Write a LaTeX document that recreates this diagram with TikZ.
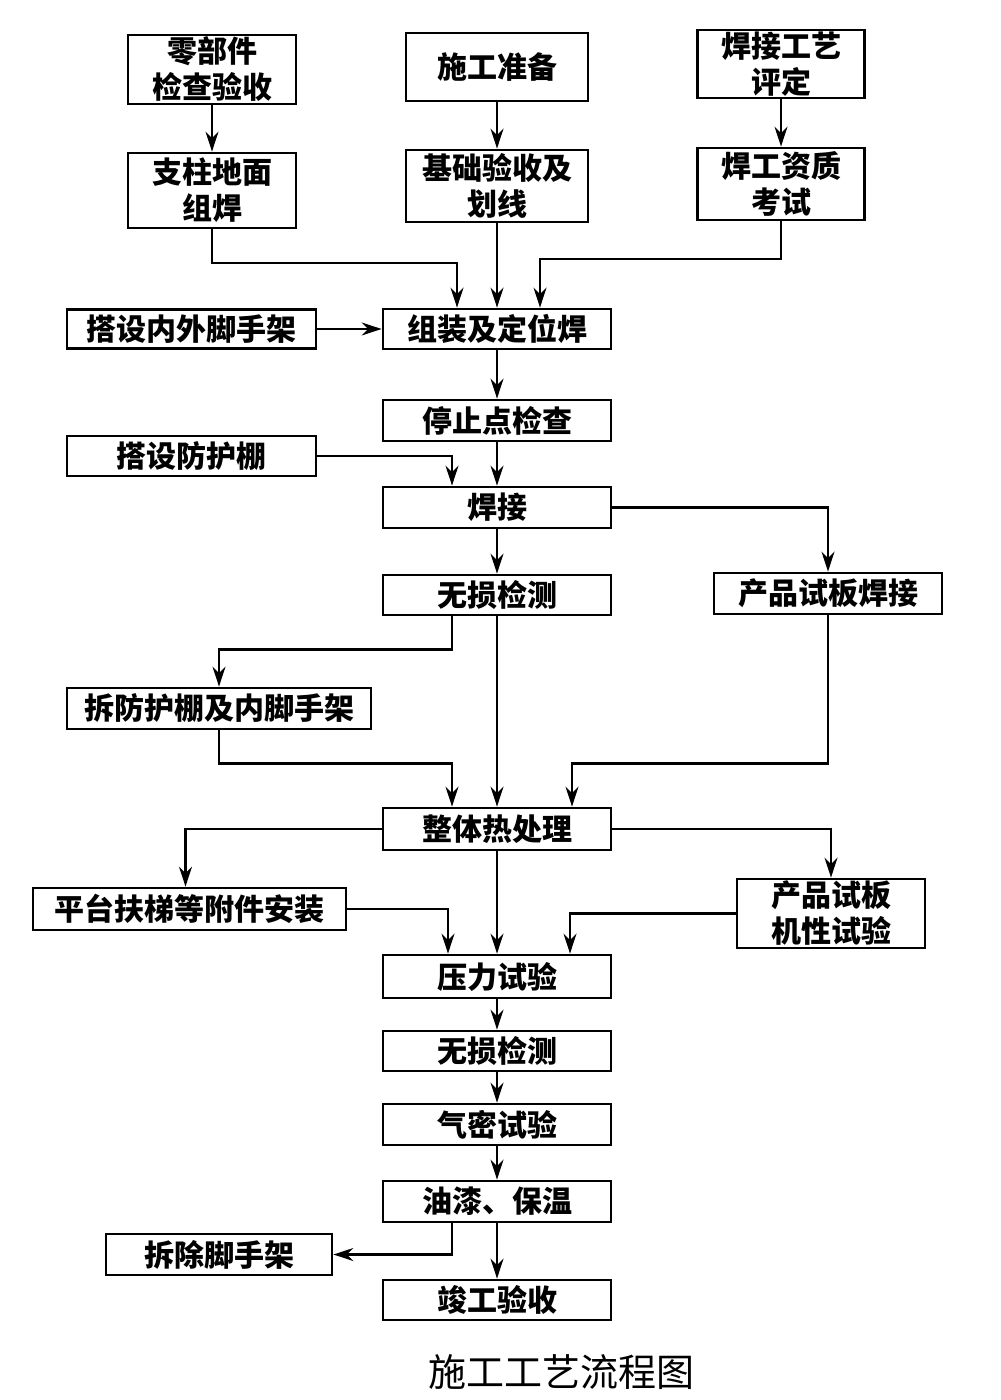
\documentclass[tikz,border=0pt]{standalone}
\usepackage{fontspec}
\newfontfamily\cjk{Noto Sans CJK SC}
\usetikzlibrary{arrows.meta,calc}
\begin{document}
\begin{tikzpicture}[x=0.5pt,y=-0.5pt,
  box/.style={draw,line width=1.4pt,inner sep=0pt,align=center,font=\cjk\bfseries\fontsize{15}{18}\selectfont},
  arr/.style={line width=1.1pt,-{Stealth[length=10pt,width=6.5pt]}},
  ln/.style={line width=1pt}]
\path[use as bounding box] (0,0) rectangle (1000,1400);
% nodes
\node[box,minimum width=84pt,minimum height=34.5pt] (zbj) at (212,69.5) {零部件\\检查验收};
\node[box,minimum width=91pt,minimum height=34pt] (sgzb) at (497,67) {施工准备};
\node[box,minimum width=83.5pt,minimum height=34pt] (hjgy) at (781,64) {焊接工艺\\评定};
\node[box,minimum width=84pt,minimum height=37.5pt] (zzdm) at (212,190.5) {支柱地面\\组焊};
\node[box,minimum width=91pt,minimum height=36pt] (jcys) at (497,186) {基础验收及\\划线};
\node[box,minimum width=83.5pt,minimum height=36pt] (hgzz) at (781,184) {焊工资质\\考试};
\node[box,minimum width=124.5pt,minimum height=19.5pt] (dsnw) at (191.5,329) {搭设内外脚手架};
\node[box,minimum width=114pt,minimum height=20pt] (zz) at (497,329) {组装及定位焊};
\node[box,minimum width=114pt,minimum height=20.5pt] (tzd) at (497,420.5) {停止点检查};
\node[box,minimum width=124.5pt,minimum height=20pt] (dsfh) at (191.5,456) {搭设防护棚};
\node[box,minimum width=114pt,minimum height=20.5pt] (hj) at (497,507.5) {焊接};
\node[box,minimum width=114pt,minimum height=20pt] (wsjc1) at (497,595) {无损检测};
\node[box,minimum width=114pt,minimum height=20.5pt] (cpsbhj) at (828,593.5) {产品试板焊接};
\node[box,minimum width=152pt,minimum height=20.5pt] (cfhp) at (219,708.5) {拆防护棚及内脚手架};
\node[box,minimum width=114pt,minimum height=21pt] (ztrcl) at (497,829) {整体热处理};
\node[box,minimum width=156.5pt,minimum height=21pt] (ptft) at (189.5,909) {平台扶梯等附件安装};
\node[box,minimum width=94pt,minimum height=34.5pt] (cpjx) at (831,913.5) {产品试板\\机性试验};
\node[box,minimum width=114pt,minimum height=21.5pt] (ylsy) at (497,976.5) {压力试验};
\node[box,minimum width=114pt,minimum height=20pt] (wsjc2) at (497,1051) {无损检测};
\node[box,minimum width=114pt,minimum height=20.5pt] (qmsy) at (497,1124.5) {气密试验};
\node[box,minimum width=114pt,minimum height=20.5pt] (yq) at (497,1201.5) {油漆、保温};
\node[box,minimum width=113pt,minimum height=20.5pt] (ccjsj) at (219,1254.5) {拆除脚手架};
\node[box,minimum width=114pt,minimum height=20pt] (jgys) at (497,1300) {竣工验收};
\node[font=\cjk\fontsize{19}{21}\selectfont] (cap) at (561,1372) {施工工艺流程图};
% connectors
\draw[arr] (zbj.south) -- (zzdm.north);
\draw[arr] (sgzb.south) -- (jcys.north);
\draw[arr] (hjgy.south) -- (hgzz.north);
\draw[arr] (zzdm.south) -- ++(0,34) -| ($(zz.north)+(-40,0)$);
\draw[arr] (jcys.south) -- (zz.north);
\draw[arr] (hgzz.south) -- ++(0,38) -| ($(zz.north)+(43,0)$);
\draw[arr] (dsnw.east) -- (zz.west);
\draw[arr] (zz.south) -- (tzd.north);
\draw[arr] (tzd.south) -- (hj.north);
\draw[arr] (dsfh.east) -| ($(hj.north)+(-45,0)$);
\draw[arr] (hj.east) -| (cpsbhj.north);
\draw[arr] (hj.south) -- (wsjc1.north);
\draw[arr] ($(wsjc1.south)+(-45,0)$) -- ++(0,33) -| (cfhp.north);
\draw[arr] (wsjc1.south) -- (ztrcl.north);
\draw[arr] (cfhp.south) -- ++(0,33) -| ($(ztrcl.north)+(-45,0)$);
\draw[arr] (cpsbhj.south) -- ++(0,148) -| ($(ztrcl.north)+(75,0)$);
\draw[arr] (ztrcl.west) -| ($(ptft.north)+(-4,0)$);
\draw[arr] (ztrcl.east) -| (cpjx.north);
\draw[arr] (ztrcl.south) -- (ylsy.north);
\draw[arr] (ptft.east) -| ($(ylsy.north)+(-49,0)$);
\draw[arr] (cpjx.west) -| ($(ylsy.north)+(73,0)$);
\draw[arr] (ylsy.south) -- (wsjc2.north);
\draw[arr] (wsjc2.south) -- (qmsy.north);
\draw[arr] (qmsy.south) -- (yq.north);
\draw[arr] ($(yq.south)+(-45,0)$) |- (ccjsj.east);
\draw[arr] (yq.south) -- (jgys.north);
\end{tikzpicture}
\end{document}
